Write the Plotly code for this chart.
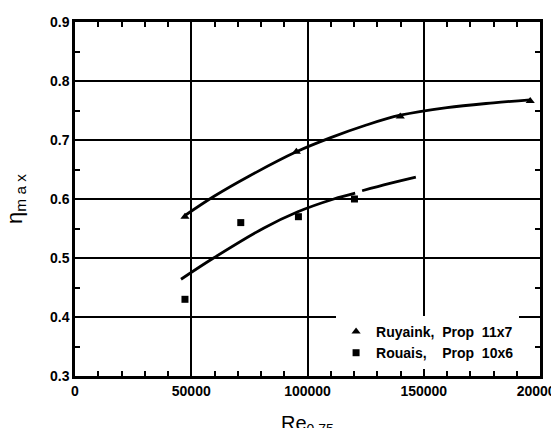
import plotly.graph_objects as go

# Measured peak efficiency vs Reynolds number
re_11x7 = [47300, 95200, 139900, 195800]
eta_11x7 = [0.57, 0.68, 0.74, 0.766]

re_10x6 = [47300, 71300, 96100, 120200]
eta_10x6 = [0.43, 0.56, 0.57, 0.60]

# Faired curves through each data set
fit_re_11x7 = [47300, 60000, 75000, 95200, 110000, 125000, 139900, 160000, 180000, 195800]
fit_eta_11x7 = [0.572, 0.605, 0.639, 0.680, 0.704, 0.725, 0.742, 0.755, 0.763, 0.768]

fit_re_10x6 = [45600, 59600, 81300, 95600, 111300, 120500]
fit_eta_10x6 = [0.464, 0.50, 0.551, 0.578, 0.60, 0.61]
tail_re_10x6 = [123500, 135000, 146600]
tail_eta_10x6 = [0.614, 0.626, 0.637]

x_ticks = [0, 50000, 100000, 150000, 200000]
y_ticks = [0.3, 0.4, 0.5, 0.6, 0.7, 0.8, 0.9]

labels = ["Ruyaink,  Prop  11x7", "Rouais,    Prop  10x6"]

fig = go.Figure()

line_style = dict(color="black", width=2.8, shape="spline", smoothing=1.0)
fig.add_trace(go.Scatter(x=fit_re_11x7, y=fit_eta_11x7, mode="lines",
                         line=line_style, showlegend=False, hoverinfo="skip"))
fig.add_trace(go.Scatter(x=fit_re_10x6, y=fit_eta_10x6, mode="lines",
                         line=line_style, showlegend=False, hoverinfo="skip"))
fig.add_trace(go.Scatter(x=tail_re_10x6, y=tail_eta_10x6, mode="lines",
                         line=line_style, showlegend=False, hoverinfo="skip"))

fig.add_trace(go.Scatter(x=re_11x7, y=eta_11x7, mode="markers", name=labels[0],
                         marker=dict(symbol="triangle-up", size=8, color="black")))
fig.add_trace(go.Scatter(x=re_10x6, y=eta_10x6, mode="markers", name=labels[1],
                         marker=dict(symbol="square", size=7, color="black")))

font_family = "Liberation Sans, Arial, sans-serif"
tick_font = dict(family=font_family, size=14, color="black", weight="bold")

common_axis = dict(
    showgrid=True, gridcolor="black", gridwidth=2,
    showline=True, linecolor="black", linewidth=2.5, mirror="allticks",
    ticks="inside", ticklen=0, tickcolor="black",
    tickfont=tick_font, zeroline=False, automargin=False,
    ticklabeloverflow="allow",
)

fig.update_xaxes(
    range=[0, 200000], tickvals=x_ticks, ticktext=[str(v) for v in x_ticks],
    minor=dict(dtick=10000, ticks="inside", ticklen=5, tickcolor="black",
               tickwidth=2, showgrid=False),
    **common_axis,
)
fig.update_yaxes(
    range=[0.3, 0.9], tickvals=y_ticks, ticktext=[f"{v:.1f}" for v in y_ticks],
    minor=dict(dtick=0.05, ticks="inside", ticklen=5, tickcolor="black",
               tickwidth=2, showgrid=False),
    title=dict(text="η<sub>m a x</sub>",
               font=dict(family=font_family, size=22, color="black"),
               standoff=22),
    **common_axis,
)

# x-axis title placed low, running off the bottom edge
fig.add_annotation(
    text="Re<sub>0.75</sub>", xref="paper", yref="paper",
    x=0.5, y=-0.095, xanchor="center", yanchor="top", showarrow=False,
    font=dict(family=font_family, size=20, color="black"),
)

fig.update_layout(
    width=551, height=428,
    margin=dict(l=75, r=11, t=22, b=52),
    paper_bgcolor="white", plot_bgcolor="white",
    legend=dict(x=0.955, y=0.02, xanchor="right", yanchor="bottom",
                bgcolor="white", borderwidth=0,
                font=dict(family=font_family, size=14, color="black", weight="bold"),
                itemwidth=30, tracegroupgap=0),
)

fig.write_html("out.html")
